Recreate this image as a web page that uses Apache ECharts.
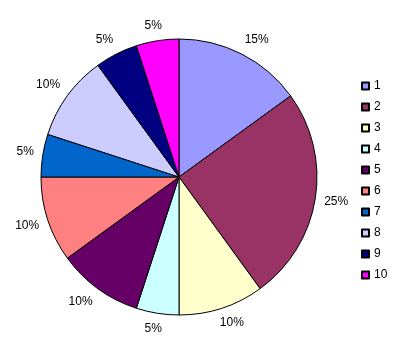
<!DOCTYPE html>
<html>
<head>
<meta charset="utf-8">
<script src="https://cdn.jsdelivr.net/npm/echarts@6/dist/echarts.min.js"></script>
<style>html,body{margin:0;padding:0;background:#fff;}#c{width:398px;height:355px;}</style>
</head>
<body>
<div id="c"></div>
<script>
var categories = ['1','2','3','4','5','6','7','8','9','10'];
var values = [15, 25, 10, 5, 10, 10, 5, 10, 5, 5];
var colors = ['#9999FF','#993366','#FFFFCC','#CCFFFF','#660066','#FF8080','#0066CC','#CCCCFF','#000080','#FF00FF'];

var FONT = 'Liberation Sans, Arial, sans-serif';
var FS = 12;
var ctx = document.createElement('canvas').getContext('2d');
ctx.font = FS + 'px ' + FONT;

var total = values.reduce(function (a, b) { return a + b; }, 0);
var cum = 0;
var labelData = categories.map(function (c, i) {
  var mid = (cum + values[i] / 2) / total * Math.PI * 2;
  cum += values[i];
  var s = Math.sin(mid), co = Math.cos(mid);
  var txt = values[i] + '%';
  var w = ctx.measureText(txt).width, h = FS;
  var fx = Math.max(-1, Math.min(1, 2 * s));
  var fy = Math.max(-1, Math.min(1, -2 * co));
  return {
    name: c, value: values[i],
    label: { offset: [fx * w / 2, fy * h / 2] }
  };
});

var chart = echarts.init(document.getElementById('c'), null, {renderer: 'canvas'});
var data = categories.map(function (c, i) {
  return { name: c, value: values[i], itemStyle: { color: colors[i] } };
});
chart.setOption({
  animation: false,
  backgroundColor: '#ffffff',
  legend: {
    orient: 'vertical',
    left: 356,
    top: 74,
    itemWidth: 7,
    itemHeight: 7,
    itemGap: 7,
    icon: 'rect',
    data: categories,
    textStyle: { fontFamily: FONT, fontSize: FS, color: '#000', lineHeight: 14 }
  },
  series: [{
    type: 'pie',
    center: [179, 177],
    radius: 138,
    startAngle: 90,
    clockwise: true,
    avoidLabelOverlap: false,
    data: data,
    itemStyle: { borderColor: '#000', borderWidth: 1 },
    label: { show: false },
    labelLine: { show: false },
    emphasis: { disabled: true }
  }, {
    type: 'pie',
    center: [179, 177],
    radius: [143, 145],
    startAngle: 90,
    clockwise: true,
    silent: true,
    avoidLabelOverlap: false,
    data: labelData,
    itemStyle: { color: 'rgba(0,0,0,0)', borderWidth: 0 },
    label: {
      show: true,
      position: 'inside',
      rotate: 0,
      formatter: function (p) { return p.value + '%'; },
      fontFamily: FONT,
      fontSize: FS,
      color: '#000'
    },
    labelLine: { show: false },
    emphasis: { disabled: true }
  }]
});
</script>
</body>
</html>
